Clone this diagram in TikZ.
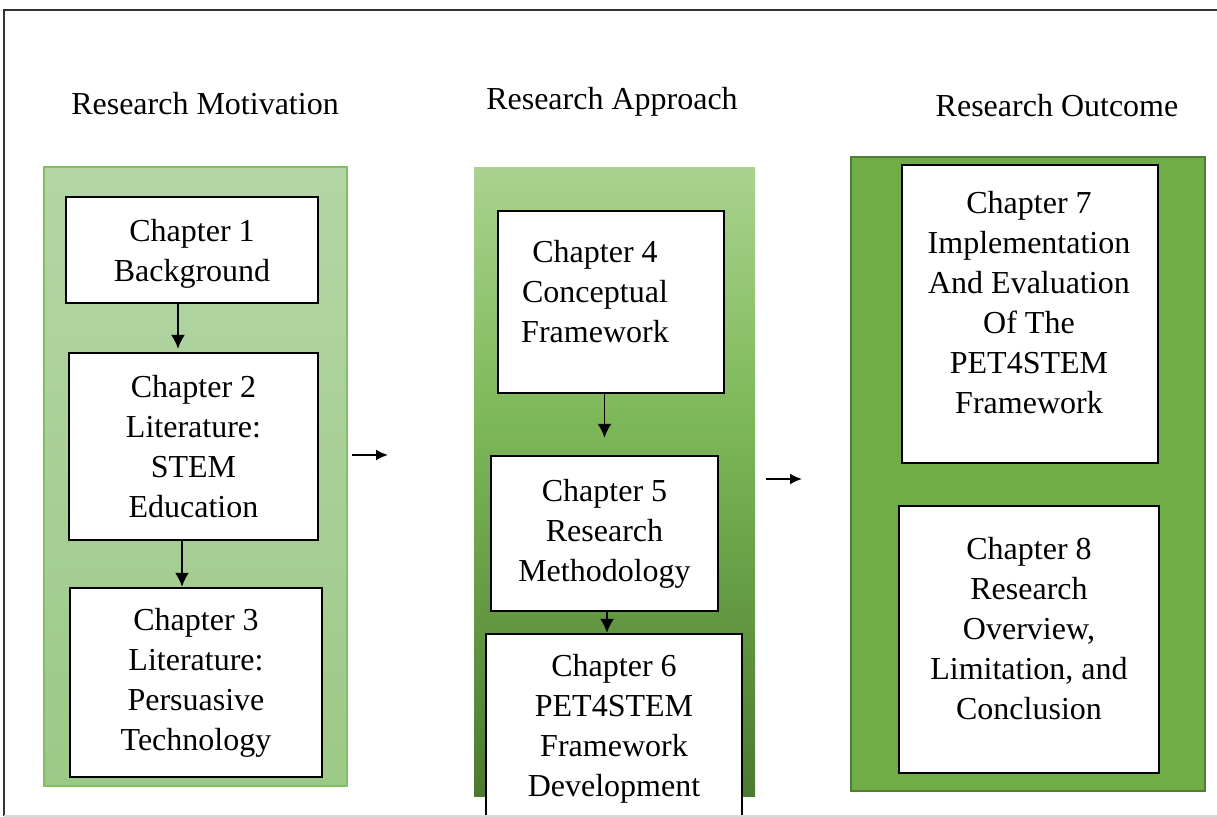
\documentclass[tikz,border=0pt]{standalone}
\usepackage{fontspec}
\setmainfont{Liberation Serif}
\usetikzlibrary{arrows.meta}
\definecolor{motivtop}{RGB}{180,214,166}
\definecolor{motivbot}{RGB}{157,201,135}
\definecolor{motivline}{RGB}{128,192,98}
\definecolor{apptop}{RGB}{170,210,143}
\definecolor{appmid}{RGB}{125,184,88}
\definecolor{appbot}{RGB}{76,122,48}
\definecolor{outfill}{RGB}{112,173,71}
\definecolor{outline}{RGB}{80,126,50}
\tikzset{
  chbox/.style={draw=black, line width=1.2pt, fill=white, align=center, inner sep=0pt},
  chtext/.style={align=center, inner sep=0pt},
  flow/.style={-{Latex[length=7pt,width=7pt]}, line width=0.9pt},
  jump/.style={-{Latex[length=6pt,width=5.5pt]}, line width=0.9pt},
  head/.style={anchor=base, inner sep=0pt}
}
\begin{document}
\begin{tikzpicture}[x=0.5pt, y=-0.5pt, font=\fontsize{16}{20}\selectfont]
\useasboundingbox (0,0) rectangle (1217,817);
% frame
\draw[line width=1pt, black!80] (1230,10) -- (4,10) -- (4,816);
% headings
\node[head] (hmot) at (205,115) {Research Motivation};
\node[head] (happ) at (612,110) {Research Approach};
\node[head] (hout) at (1057,117) {Research Outcome};
% panels
\shade[top color=motivtop, bottom color=motivbot] (44,167) rectangle (347,786);
\draw[motivline, line width=0.6pt] (44,167) rectangle (347,786);
\shade[top color=apptop, bottom color=appmid] (474,168) rectangle (755,420);
\shade[top color=appmid, bottom color=appbot] (474,420) rectangle (755,797);
\draw[outline, line width=0.8pt, fill=outfill] (851,157) rectangle (1205,791);
% research motivation
\node[chbox, minimum width=126pt, minimum height=53pt] (ch1) at (192,250) {};
\node[chtext] (ch1t) at (192,254) {Chapter 1\\Background};
\node[chbox, minimum width=124.5pt, minimum height=93.5pt] (ch2) at (193.5,446.5)
  {Chapter 2\\Literature:\\STEM\\Education};
\node[chbox, minimum width=126pt, minimum height=94.5pt] (ch3) at (196,682.5)
  {Chapter 3\\Literature:\\Persuasive\\Technology};
% research approach
\node[chbox, minimum width=113pt, minimum height=91pt] (ch4) at (611,302) {};
\node[chtext] (ch4t) at (595,292) {Chapter 4\\Conceptual\\Framework};
\node[chbox, minimum width=113.5pt, minimum height=77.5pt] (ch5) at (604.5,533.5)
  {Chapter 5\\Research\\Methodology};
\node[chbox, minimum width=128pt, minimum height=98pt] (ch6) at (614,732) {};
\node[chtext] (ch6t) at (614,729) {Chapter 6\\PET4STEM\\Framework\\Development};
% research outcome
\node[chbox, minimum width=128pt, minimum height=149pt] (ch7) at (1030,314) {};
\node[chtext] (ch7t) at (1029,302.5)
  {Chapter 7\\Implementation\\And Evaluation\\Of The\\PET4STEM\\Framework};
\node[chbox, minimum width=130pt, minimum height=133.5pt] (ch8) at (1029,639.5) {};
\node[chtext] (ch8t) at (1029,628.5)
  {Chapter 8\\Research\\Overview,\\Limitation, and\\Conclusion};
% arrows
\draw[flow, shorten >=1.5pt] ([xshift=-7pt]ch1.south) -- ([xshift=-7pt]ch1.south |- ch2.north);
\draw[flow] ([xshift=-5.75pt]ch2.south) -- ([xshift=-5.75pt]ch2.south |- ch3.north);
\draw[flow] (ch4.south -| ch5.north) -- ([yshift=8.5pt]ch5.north);
\draw[flow] ([xshift=1.25pt]ch5.south) -- ([xshift=1.25pt]ch5.south |- ch6.north);
\coordinate (m1) at (352,455);
\coordinate (m2) at (388,455);
\coordinate (a1) at (766,479);
\coordinate (a2) at (802,479);
\draw[jump] (m1) -- (m2);
\draw[jump] (a1) -- (a2);
\draw[black!15, line width=0.8pt] (4,816) -- (1217,816);
\end{tikzpicture}
\end{document}
